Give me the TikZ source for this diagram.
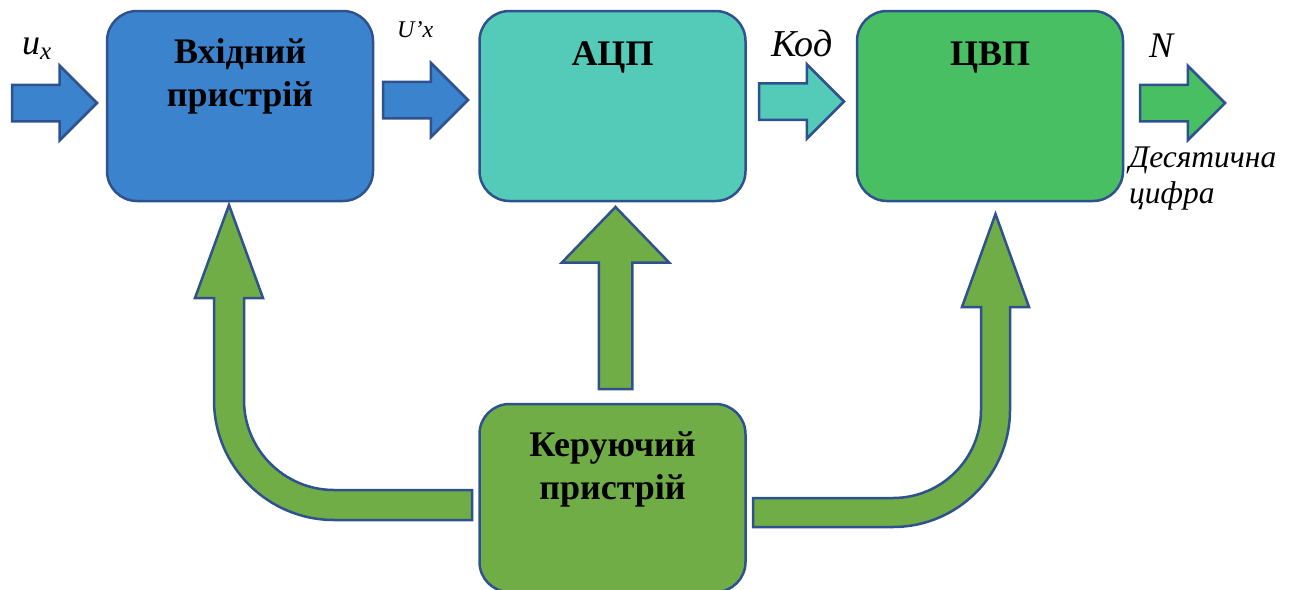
\documentclass[tikz,border=0pt]{standalone}
\usepackage{fontspec}
\setmainfont{Liberation Serif}
\usetikzlibrary{shapes.arrows,positioning,calc}
\definecolor{inBlue}{RGB}{59,131,204}
\definecolor{adcTeal}{RGB}{83,203,184}
\definecolor{cvpGreen}{RGB}{73,191,100}
\definecolor{ctrlGreen}{RGB}{112,173,71}
\definecolor{edgeBlue}{RGB}{47,82,143}

\begin{document}
\begin{tikzpicture}[
  x=1pt, y=-1pt,
  box/.style={rectangle, rounded corners=30pt, draw=edgeBlue, line width=2.5pt,
              fill=#1, minimum width=266pt, minimum height=190pt, inner sep=0pt},
  title/.style={font=\fontsize{36}{43}\selectfont\bfseries, align=center,
                inner sep=0pt},
  sig/.style={inner sep=0pt, font=\itshape},
  flow/.style={single arrow, draw=edgeBlue, line width=2.5pt, fill=#1,
               minimum height=85pt, minimum width=0pt, inner sep=17pt,
               outer sep=0pt, single arrow head extend=19pt, anchor=tail},
  fat/.style={draw=edgeBlue, line width=2.5pt, fill=ctrlGreen}
]
  \useasboundingbox (0,0) rectangle (1295,589);

  % blocks
  \node[box=inBlue]    (inp)  at (240,106)   {};
  \node[box=adcTeal]   (adc)  at (612.5,106) {};
  \node[box=cvpGreen]  (cvp)  at (990,106)   {};
  \node[box=ctrlGreen, minimum height=188pt] (ctrl) at (612.5,498) {};

  \node[title, below=29pt of inp.north]  (inpT)  {Вхідний\\пристрій};
  \node[title, below=32pt of adc.north]  (adcT)  {АЦП};
  \node[title, below=32pt of cvp.north]  (cvpT)  {ЦВП};
  \node[title, below=29pt of ctrl.north] (ctrlT) {Керуючий\\пристрій};

  % signal arrows
  \node[flow=inBlue]   (aIn)  at (12,103)    {};
  \node[flow=inBlue]   (aUx)  at (383,100)   {};
  \node[flow=adcTeal]  (aKod) at (759,101.5) {};
  \node[flow=cvpGreen] (aN)   at (1140,103)  {};

  \node[sig, anchor=base west] (lUx) at (22,54)
    {{\fontsize{36}{36}\selectfont u}\raisebox{-5pt}{\fontsize{25}{25}\selectfont x}};
  \node[sig, anchor=base west, font=\itshape\fontsize{24}{24}\selectfont]
    (lUpx) at (397,37) {U’x};
  \node[sig, anchor=base west, font=\itshape\fontsize{38}{38}\selectfont]
    (lKod) at (771,56) {Код};
  \node[sig, anchor=base west, font=\itshape\fontsize{36}{36}\selectfont]
    (lN) at (1149,57) {N};
  \node[sig, anchor=north west, align=left,
        font=\itshape\fontsize{31.5}{36}\selectfont] (lDec) at (1129,147)
    {Десятична\\цифра};

  % control arrows
  \node[single arrow, fat, rotate=90, anchor=tail, outer sep=0pt,
        minimum height=182pt, minimum width=0pt, inner sep=15.5pt,
        single arrow head extend=37pt, single arrow tip angle=88]
    (aAdc) at (615.5,389) {};

  \draw[fat] (472,490) -- (334,490) arc[start angle=90, end angle=180, radius=90]
    -- (244,298) -- (263,298) -- (229,205) -- (195,298) -- (214,298) -- (214,400)
    arc[start angle=180, end angle=90, radius=120] -- (472,520) -- cycle;
  \draw[fat] (753,498) -- (893,498) arc[start angle=90, end angle=0, radius=88]
    -- (981,307) -- (962,307) -- (995.5,214) -- (1029,307) -- (1010,307) -- (1010,410)
    arc[start angle=0, end angle=90, radius=117] -- (753,527) -- cycle;
\end{tikzpicture}
\end{document}
